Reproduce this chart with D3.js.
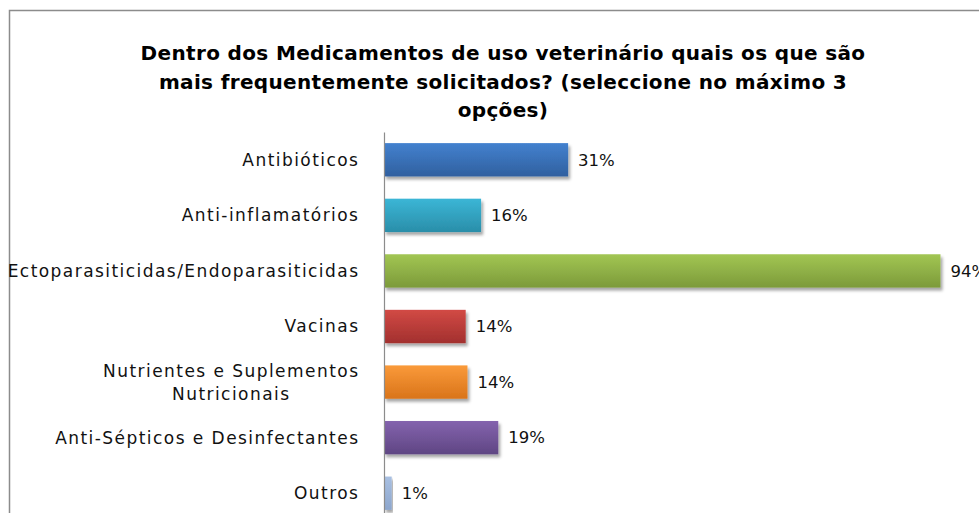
<!DOCTYPE html>
<html><head><meta charset="utf-8">
<script src="https://cdn.jsdelivr.net/npm/d3@7"></script>
<style>body{margin:0;background:#fff}svg{display:block}</style>
</head><body>
<svg id="c" width="979" height="513"></svg>
<script>
const categories = ["Antibióticos","Anti-inflamatórios","Ectoparasiticidas/Endoparasiticidas","Vacinas","Nutrientes e Suplementos\nNutricionais","Anti-Sépticos e Desinfectantes","Outros"];
const values = [31.1, 16.4, 94, 13.8, 14.1, 19.3, 1.3];
const valueLabels = ["31%","16%","94%","14%","14%","19%","1%"];
const colorsTop = ["#4381cf","#3bb6d6","#a2c653","#d24a45","#fa9a3a","#8463ae","#a9c0e2"];
const colorsBottom = ["#30609f","#2a8ea9","#7c9a3a","#a2302e","#d9741a","#5f4683","#8ca6cd"];
const titleLines = ["Dentro dos Medicamentos de uso veterinário quais os que são","mais frequentemente solicitados? (seleccione no máximo 3","opções)"];

const svg = d3.select("#c");
const font = "'DejaVu Sans', Verdana, sans-serif";
const defs = svg.append("defs");
const f = defs.append("filter").attr("id","sh").attr("x","-5%").attr("y","-20%").attr("width","115%").attr("height","160%");
f.append("feDropShadow").attr("dx",2).attr("dy",3).attr("stdDeviation",1.8).attr("flood-color","#000").attr("flood-opacity",0.35);
categories.forEach((c,i)=>{
  const g = defs.append("linearGradient").attr("id","g"+i).attr("x1",0).attr("y1",0).attr("x2",0).attr("y2",1);
  g.append("stop").attr("offset","0%").attr("stop-color",colorsTop[i]);
  g.append("stop").attr("offset","100%").attr("stop-color",colorsBottom[i]);
});

// frame
svg.append("rect").attr("x",9.5).attr("y",10.5).attr("width",1000).attr("height",600)
  .attr("fill","none").attr("stroke","#8c8c8c").attr("stroke-width",1.5);

// title
svg.append("text").attr("font-family",font).attr("font-weight","bold").attr("font-size",20)
  .attr("letter-spacing",0.35).attr("text-anchor","middle").attr("fill","#000")
  .selectAll("tspan").data(titleLines).join("tspan")
  .attr("x",503).attr("y",(d,i)=>60+i*28.5).text(d=>d);

const x = d3.scaleLinear().domain([0,100]).range([384,976]);
const y = d3.scaleBand().domain(categories).range([132,521]).paddingInner(0.4).paddingOuter(0.2);

// bars
svg.append("g").selectAll("rect").data(values).join("rect")
  .attr("x",x(0)).attr("y",(d,i)=>y(categories[i]))
  .attr("width",d=>x(d)-x(0)).attr("height",y.bandwidth())
  .attr("fill",(d,i)=>`url(#g${i})`).attr("filter","url(#sh)");

// axis line
const yAxis = d3.axisLeft(y).tickSize(0).tickFormat("");
const ag = svg.append("g").attr("transform",`translate(${x(0)},0)`).call(yAxis);
ag.select(".domain").attr("stroke","#8c8c8c").attr("stroke-width",1.2);

// category labels
const ls = 1.45;
const lab = svg.append("g").attr("font-family",font).attr("font-size",17).attr("letter-spacing",ls).attr("fill","#111");
categories.forEach((c,i)=>{
  const lines = c.split("\n");
  const cy = y(c)+y.bandwidth()/2;
  if(lines.length===1){
    lab.append("text").attr("x",358+ls).attr("y",cy).attr("dy","0.35em").attr("text-anchor","end").text(c);
  } else {
    const t = lab.append("text").attr("text-anchor","middle");
    const tmp = lab.append("text").text(lines[0]);
    const w = tmp.node().getComputedTextLength(); tmp.remove();
    const cx = 358 + ls - w/2;
    lines.forEach((l,j)=>{
      t.append("tspan").attr("x",cx).attr("y",cy+(j-(lines.length-1)/2)*23).attr("dy","0.35em").text(l);
    });
  }
});

// value labels
svg.append("g").attr("font-family",font).attr("font-size",16.5).attr("fill","#111")
  .selectAll("text").data(values).join("text")
  .attr("x",d=>x(d)+10).attr("y",(d,i)=>y(categories[i])+y.bandwidth()/2).attr("dy","0.35em")
  .text((d,i)=>valueLabels[i]);
</script>
</body></html>
